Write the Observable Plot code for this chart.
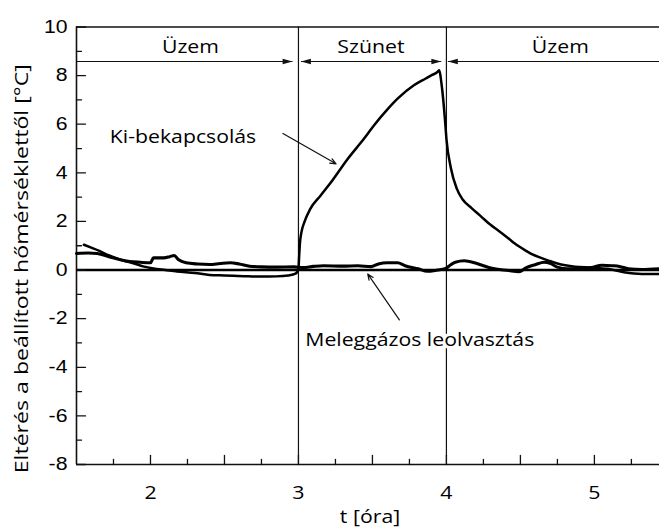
<!DOCTYPE html>
<html>
<head>
<meta charset="utf-8">
<script src="https://cdn.jsdelivr.net/npm/d3@7"></script>
<script src="https://cdn.jsdelivr.net/npm/@observablehq/plot@0.6"></script>
<style>
  html, body { margin: 0; padding: 0; background: #fff; }
  #chart svg { display: block; }
</style>
</head>
<body>
<div id="chart"></div>
<script>
// Deviation from the set temperature [°C] over time [h]
// On/off cycling (Ki-bekapcsolás)
const onOffTime = [1.55, 1.6, 1.65, 1.72, 1.8, 1.89, 1.95, 2.02, 2.1, 2.18, 2.3, 2.4, 2.5, 2.63, 2.75, 2.85, 2.93, 2.98,
  3.0, 3.005, 3.01, 3.02, 3.04, 3.08, 3.15, 3.22, 3.33, 3.445, 3.51, 3.6, 3.67, 3.78, 3.86, 3.9, 3.94, 3.95,
  3.97, 3.99, 4.0, 4.03, 4.07, 4.11, 4.17, 4.235, 4.3, 4.35, 4.42, 4.46, 4.53, 4.57, 4.64, 4.69, 4.75, 4.87, 4.98, 5.09, 5.2, 5.32, 5.44];
const onOffDev = [1.04, 0.92, 0.8, 0.6, 0.42, 0.27, 0.15, 0.06, 0.0, -0.06, -0.12, -0.2, -0.22, -0.25, -0.27, -0.26, -0.22, -0.15,
  0.05, 0.6, 1.1, 1.55, 1.97, 2.52, 3.07, 3.61, 4.55, 5.42, 5.95, 6.6, 7.05, 7.6, 7.88, 8.02, 8.15, 8.22,
  7.5, 6.2, 5.4, 4.2, 3.35, 2.9, 2.55, 2.2, 1.85, 1.63, 1.3, 1.1, 0.82, 0.68, 0.5, 0.39, 0.27, 0.14, 0.1, 0.05, -0.09, -0.16, -0.16];

// Hot-gas defrosting (Meleggázos leolvasztás)
const hotGasTime = [1.5, 1.58, 1.64, 1.72, 1.79, 1.86, 1.93, 2.0, 2.02, 2.09, 2.13, 2.16, 2.19, 2.24, 2.32, 2.4, 2.47, 2.54, 2.6, 2.67, 2.75, 2.85, 2.97,
  3.03, 3.1, 3.17, 3.3, 3.4, 3.49, 3.54, 3.6, 3.67, 3.72, 3.81, 3.87, 3.94, 3.99,
  4.03, 4.06, 4.12, 4.19, 4.25, 4.3, 4.42, 4.49, 4.54, 4.6, 4.66, 4.7, 4.75, 4.82, 4.9, 4.98, 5.05, 5.12, 5.17, 5.23, 5.32, 5.44];
const hotGasDev = [0.68, 0.7, 0.68, 0.55, 0.43, 0.35, 0.32, 0.3, 0.5, 0.5, 0.55, 0.6, 0.42, 0.3, 0.25, 0.23, 0.27, 0.3, 0.25, 0.16, 0.13, 0.12, 0.13,
  0.1, 0.15, 0.18, 0.16, 0.18, 0.14, 0.25, 0.3, 0.3, 0.18, 0.05, -0.05, 0.0, 0.05,
  0.22, 0.32, 0.38, 0.3, 0.18, 0.08, -0.02, -0.07, 0.1, 0.22, 0.32, 0.28, 0.12, 0.05, 0.05, 0.1, 0.2, 0.18, 0.15, 0.05, 0.02, 0.05];

// Axes
const xDomain = [1.5, 5.44];
const yDomain = [-8, 10];
const xTickLabels = [2, 3, 4, 5];
const xMajorTicks = [2, 2.5, 3, 3.5, 4, 4.5, 5];
const xMinorTicks = [1.75, 2.25, 2.75, 3.25, 3.75, 4.25, 4.75, 5.25];
const yMajorTicks = [-8, -6, -4, -2, 0, 2, 4, 6, 8, 10];
const yMinorTicks = [-7, -5, -3, -1, 1, 3, 5, 7, 9];
const xTitle = "t [óra]";
const yTitle = "Eltérés a beállított hőmérséklettől [°C]";

// Operating phases along the top
const phaseBounds = [3, 4];
const phaseNames = ["Üzem", "Szünet", "Üzem"];
const phaseLabelX = [2.27, 3.49, 4.77];
const phaseLabelY = 9.15;
const phaseArrowY = 8.58;
const phaseSegStart = [1.5, 3.017, 4.01];
const phaseSegEnd = [2.96, 3.965, 5.44];
const headRightX = [2.96, 3.965];
const headLeftX = [3.017, 4.01];

// Curve annotations
const noteText = ["Ki-bekapcsolás", "Meleggázos leolvasztás"];
const noteX = [2.22, 3.82];
const noteY = [5.45, -2.88];
const pointerX1 = [2.895, 3.682];
const pointerY1 = [5.62, -2.05];
const pointerX2 = [3.254, 3.468];
const pointerY2 = [4.37, -0.16];

const onOff = onOffTime.map((t, i) => ({t, v: onOffDev[i]}));
const hotGas = hotGasTime.map((t, i) => ({t, v: hotGasDev[i]}));
const phases = phaseNames.map((name, i) => ({name, x: phaseLabelX[i], x1: phaseSegStart[i], x2: phaseSegEnd[i]}));
const notes = noteText.map((text, i) => ({text, x: noteX[i], y: noteY[i],
  x1: pointerX1[i], y1: pointerY1[i], x2: pointerX2[i], y2: pointerY2[i]}));

// Short straight tick line drawn by vector marks
const tickShape = {draw(context, length) { context.moveTo(0, 0); context.lineTo(0, -length); }};
// Slim filled arrowheads
const headRight = {draw(ctx, size) { const s = Math.sqrt(size / Math.PI);
  ctx.moveTo(0, 0); ctx.lineTo(-2.6 * s, -0.7 * s); ctx.lineTo(-2.6 * s, 0.7 * s); ctx.closePath(); }};
const headLeft = {draw(ctx, size) { const s = Math.sqrt(size / Math.PI);
  ctx.moveTo(0, 0); ctx.lineTo(2.6 * s, -0.7 * s); ctx.lineTo(2.6 * s, 0.7 * s); ctx.closePath(); }};

const sans = "'Open Sans', sans-serif";
const arial = "'Liberation Sans', Arial, sans-serif";

const chart = Plot.plot({
  width: 659,
  height: 531,
  marginLeft: 76,
  marginRight: 0,
  marginTop: 26.5,
  marginBottom: 67,
  x: {domain: xDomain},
  y: {domain: yDomain},
  style: {background: "white", fontFamily: sans, fontSize: "18px", color: "black"},
  marks: [
    // frame lines and phase boundaries
    Plot.ruleY([yDomain[0], yDomain[1]], {stroke: "#111", strokeWidth: 1.6}),
    Plot.ruleX([xDomain[0]], {stroke: "#111", strokeWidth: 1.6}),
    Plot.ruleX(phaseBounds, {stroke: "#111", strokeWidth: 1.2}),
    Plot.ruleY([0], {stroke: "#000", strokeWidth: 2.4}),

    // ticks pointing inward
    Plot.vector(xMajorTicks, {x: d => d, y: yDomain[0], length: 9, anchor: "start", shape: tickShape, stroke: "#111", strokeWidth: 1.3}),
    Plot.vector(xMinorTicks, {x: d => d, y: yDomain[0], length: 5, anchor: "start", shape: tickShape, stroke: "#111", strokeWidth: 1.3}),
    Plot.vector(yMajorTicks, {x: xDomain[0], y: d => d, length: 9, rotate: 90, anchor: "start", shape: tickShape, stroke: "#111", strokeWidth: 1.3}),
    Plot.vector(yMinorTicks, {x: xDomain[0], y: d => d, length: 5, rotate: 90, anchor: "start", shape: tickShape, stroke: "#111", strokeWidth: 1.3}),

    // tick labels
    Plot.axisX({ticks: xTickLabels, tickSize: 0, tickPadding: 22, label: null, tickFormat: d => String(d), fontFamily: sans, fontSize: 18}),
    Plot.axisY({ticks: yMajorTicks, tickSize: 0, tickPadding: 9, label: null, tickFormat: d => String(d), fontFamily: arial, fontSize: 18}),

    // axis titles
    Plot.text([xTitle], {frameAnchor: "bottom", dy: 58, dx: 2, fontSize: 18, fill: "#000"}),
    Plot.text([yTitle], {frameAnchor: "left", textAnchor: "middle", dx: -54, dy: 23, rotate: -90, fontSize: 18.5, fill: "#000"}),

    // measured curves
    Plot.line(hotGas, {x: "t", y: "v", stroke: "#000", strokeWidth: 3.1, strokeLinejoin: "round", curve: "monotone-x"}),
    Plot.line(onOff, {x: "t", y: "v", stroke: "#000", strokeWidth: 2.5, strokeLinejoin: "round", curve: "monotone-x"}),

    // phase arrows and names
    Plot.link(phases, {x1: "x1", x2: "x2", y1: phaseArrowY, y2: phaseArrowY, stroke: "#111", strokeWidth: 1.2}),
    Plot.dot(headRightX, {x: d => d, y: phaseArrowY, r: 3.8, symbol: headRight, fill: "#111", stroke: null}),
    Plot.dot(headLeftX, {x: d => d, y: phaseArrowY, r: 3.8, symbol: headLeft, fill: "#111", stroke: null}),
    Plot.text(phases, {x: "x", y: phaseLabelY, text: "name", fontSize: 18, fill: "#000"}),

    // curve annotations
    Plot.arrow(notes, {x1: "x1", y1: "y1", x2: "x2", y2: "y2", stroke: "#111", strokeWidth: 1.2, headLength: 8, headAngle: 45}),
    Plot.text(notes, {x: "x", y: "y", text: "text", fontSize: 18, fill: "#000", stroke: "white", strokeWidth: 6})
  ]
});

document.getElementById("chart").append(chart);

// widen the texts slightly along their baseline
chart.querySelectorAll("text").forEach(t => {
  const rotated = (t.getAttribute("transform") || "").includes("rotate");
  const stretch = rotated ? 1.25 : 1.18;
  const len = t.getComputedTextLength();
  if (len > 0) {
    t.setAttribute("textLength", (len * stretch).toFixed(1));
    t.setAttribute("lengthAdjust", "spacingAndGlyphs");
  }
});
</script>
</body>
</html>
